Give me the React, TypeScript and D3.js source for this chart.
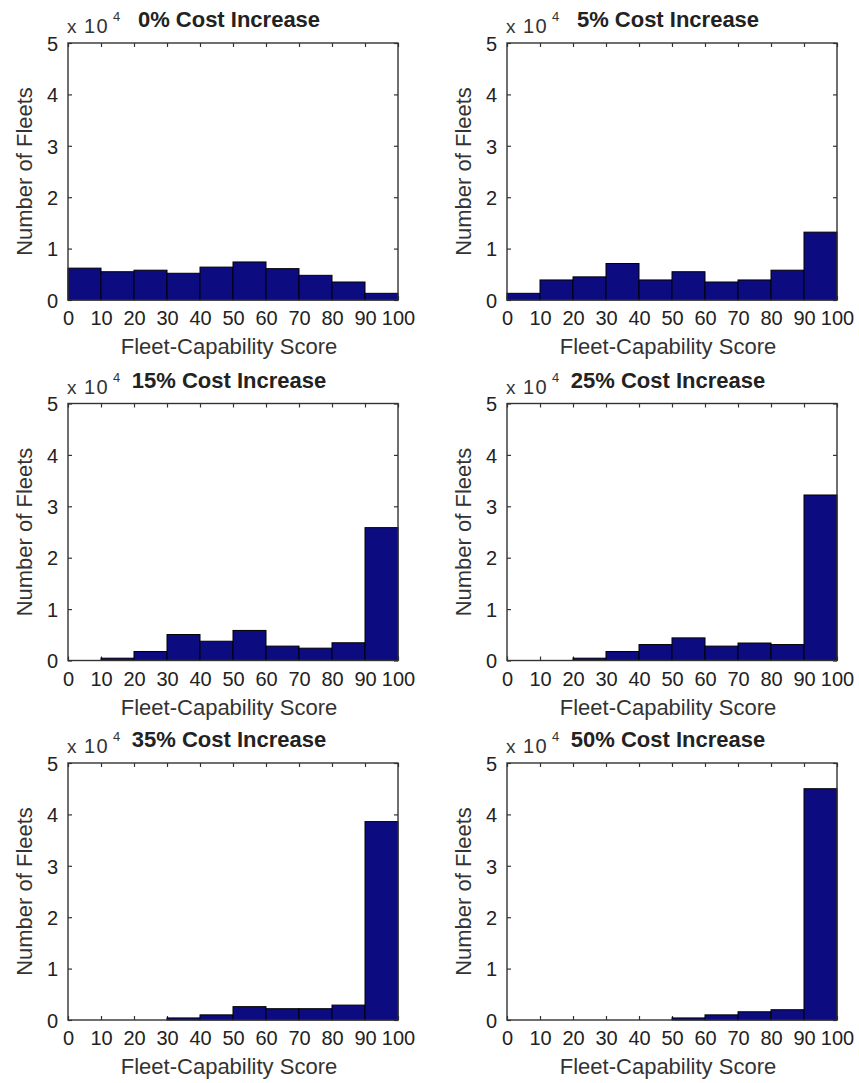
import { useEffect, useRef } from "react";
import { axisBottom, axisLeft, axisRight, axisTop, scaleLinear, select } from "d3";

// histogram bins (fleet-capability score)
const binStarts = [0, 10, 20, 30, 40, 50, 60, 70, 80, 90];
const binWidth = 10;
const xTicks = [0, 10, 20, 30, 40, 50, 60, 70, 80, 90, 100];
const yTicks = [0, 10000, 20000, 30000, 40000, 50000];

const titles = [
  "0% Cost Increase",
  "5% Cost Increase",
  "15% Cost Increase",
  "25% Cost Increase",
  "35% Cost Increase",
  "50% Cost Increase",
];

// number of fleets per bin
const fleets0 = [6200, 5500, 5800, 5200, 6400, 7400, 6100, 4800, 3500, 1300];
const fleets5 = [1300, 3900, 4500, 7100, 3900, 5500, 3500, 3900, 5800, 13200];
const fleets15 = [0, 450, 1750, 5050, 3750, 5850, 2800, 2400, 3450, 25850];
const fleets25 = [0, 0, 450, 1750, 3100, 4400, 2800, 3400, 3100, 32200];
const fleets35 = [0, 0, 0, 400, 1000, 2600, 2200, 2200, 2900, 38600];
const fleets50 = [0, 0, 0, 0, 0, 400, 1000, 1600, 2000, 45000];

const series = [fleets0, fleets5, fleets15, fleets25, fleets35, fleets50];

// layout
const colLeft = [68, 507];
const plotW = 330;
const rowTop = [43, 403.5, 763];
const plotH = 257;
const font = "'Liberation Sans', Arial, Helvetica, sans-serif";
const ink = "#222";

function App() {
  const ref = useRef<SVGSVGElement>(null);

  useEffect(() => {
    const svg = select(ref.current);
    svg.selectAll("*").remove();

    series.forEach((values, i) => {
      const left = colLeft[i % 2];
      const top = rowTop[Math.floor(i / 2)];

      const x = scaleLinear().domain([0, 100]).range([0, plotW]);
      const y = scaleLinear().domain([0, 50000]).range([plotH, 0]);

      const g = svg.append("g").attr("transform", `translate(${left},${top})`);

      // axes first, bars cover the bottom ticks like matlab does
      const bottom = g
        .append("g")
        .attr("transform", `translate(0,${plotH})`)
        .call(axisBottom(x).tickValues(xTicks).tickSize(-4).tickPadding(10));
      bottom.selectAll("text").attr("dy", "0.75em");

      const leftAx = g
        .append("g")
        .call(
          axisLeft(y)
            .tickValues(yTicks)
            .tickSize(-4)
            .tickPadding(10)
            .tickFormat((d) => String(+d / 10000))
        );
      leftAx.selectAll("text").attr("dy", "0.36em");

      g.append("g").call(axisTop(x).tickValues(xTicks).tickSize(-4).tickFormat(() => ""));
      g.append("g")
        .attr("transform", `translate(${plotW},0)`)
        .call(axisRight(y).tickValues(yTicks).tickSize(-4).tickFormat(() => ""));

      g.selectAll(".domain").remove();
      g.selectAll(".tick line").attr("stroke", "#333").attr("stroke-width", 1.2);
      g.selectAll(".tick text")
        .attr("font-family", font)
        .attr("font-size", 20)
        .attr("fill", ink);

      // bars
      g.selectAll("rect.bar")
        .data(values)
        .join("rect")
        .attr("class", "bar")
        .attr("x", (_, j) => x(binStarts[j]))
        .attr("width", (_, j) => x(binStarts[j] + binWidth) - x(binStarts[j]))
        .attr("y", (d) => y(d))
        .attr("height", (d) => y(0) - y(d))
        .attr("fill", "#0c0c80")
        .attr("stroke", "#000")
        .attr("stroke-width", 1);

      // box
      g.append("rect")
        .attr("width", plotW)
        .attr("height", plotH)
        .attr("fill", "none")
        .attr("stroke", "#333")
        .attr("stroke-width", 1.4);

      // title
      g.append("text")
        .attr("x", plotW / 2 - 4)
        .attr("y", -16)
        .attr("text-anchor", "middle")
        .attr("font-family", font)
        .attr("font-weight", "bold")
        .attr("font-size", 22)
        .attr("fill", ink)
        .text(titles[i]);

      // exponent label  x 10^4
      g.append("text")
        .attr("x", -1)
        .attr("y", -10)
        .attr("font-family", font)
        .attr("font-size", 19)
        .attr("fill", "#333")
        .text("x");
      g.append("text")
        .attr("x", 16)
        .attr("y", -10)
        .attr("font-family", font)
        .attr("font-size", 20)
        .attr("fill", "#333")
        .attr("letter-spacing", 1.5)
        .text("10");
      g.append("text")
        .attr("x", 45)
        .attr("y", -22)
        .attr("font-family", font)
        .attr("font-size", 13)
        .attr("fill", "#333")
        .text("4");

      // axis labels
      g.append("text")
        .attr("transform", `translate(-36,${plotH / 2}) rotate(-90)`)
        .attr("text-anchor", "middle")
        .attr("font-family", font)
        .attr("font-size", 22)
        .attr("fill", "#333")
        .text("Number of Fleets");

      g.append("text")
        .attr("x", plotW / 2 - 4)
        .attr("y", plotH + 54)
        .attr("text-anchor", "middle")
        .attr("font-family", font)
        .attr("font-size", 22)
        .attr("fill", "#333")
        .text("Fleet-Capability Score");
    });
  }, []);

  return (
    <svg
      ref={ref}
      width={859}
      height={1083}
      style={{ position: "absolute", left: 0, top: 0, background: "#fff" }}
    />
  );
}

export default App;
